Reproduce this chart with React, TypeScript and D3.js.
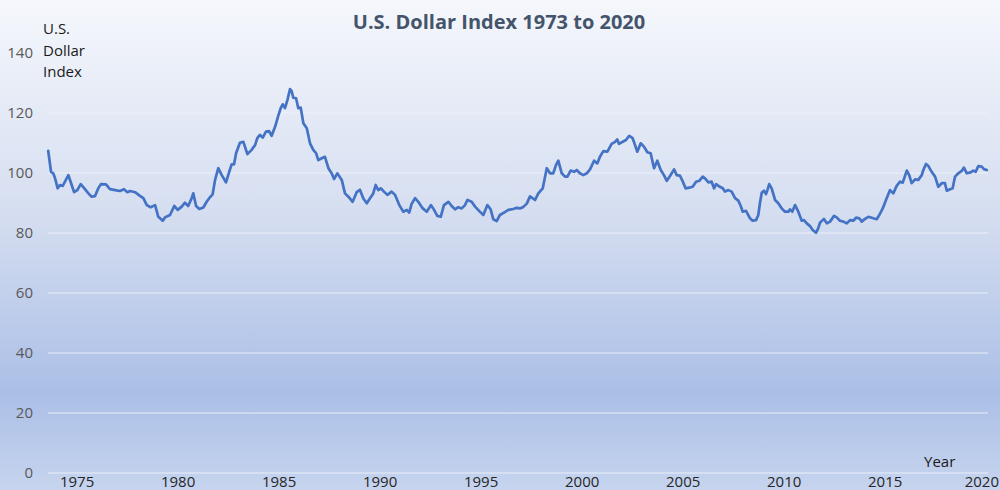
import React from "react";
import * as d3 from "d3";

const years: number[] = [
  1973.57, 1973.71, 1973.82, 1973.91, 1974.04, 1974.15, 1974.29, 1974.40, 1974.57, 1974.68, 1974.85,
  1975.01, 1975.18, 1975.39, 1975.56, 1975.72, 1975.89, 1976.05, 1976.18, 1976.43, 1976.63, 1976.88,
  1977.12, 1977.32, 1977.49, 1977.62, 1977.87, 1978.11, 1978.28, 1978.45, 1978.64, 1978.86, 1979.02,
  1979.24, 1979.35, 1979.60, 1979.81, 1979.98, 1980.18, 1980.34, 1980.50, 1980.67, 1980.75, 1980.89,
  1981.05, 1981.25, 1981.42, 1981.54, 1981.71, 1981.83, 1981.99, 1982.16, 1982.37, 1982.53, 1982.65,
  1982.77, 1982.87, 1983.06, 1983.23, 1983.43, 1983.64, 1983.81, 1983.92, 1984.05, 1984.19, 1984.35,
  1984.50, 1984.63, 1984.80, 1984.96, 1985.08, 1985.18, 1985.29, 1985.41, 1985.54, 1985.62, 1985.70,
  1985.84, 1985.95, 1986.07, 1986.20, 1986.37, 1986.53, 1986.69, 1986.83, 1986.94, 1987.11, 1987.27,
  1987.44, 1987.60, 1987.72, 1987.88, 1988.10, 1988.26, 1988.43, 1988.64, 1988.84, 1989.00, 1989.17,
  1989.34, 1989.50, 1989.66, 1989.78, 1989.91, 1990.03, 1990.19, 1990.36, 1990.57, 1990.74, 1990.95,
  1991.15, 1991.32, 1991.44, 1991.56, 1991.73, 1991.89, 1992.11, 1992.31, 1992.52, 1992.67, 1992.83,
  1993.00, 1993.16, 1993.38, 1993.54, 1993.71, 1993.87, 1994.04, 1994.20, 1994.32, 1994.53, 1994.70,
  1994.91, 1995.11, 1995.31, 1995.47, 1995.60, 1995.77, 1995.93, 1996.13, 1996.35, 1996.59, 1996.76,
  1996.92, 1997.09, 1997.26, 1997.42, 1997.67, 1997.83, 1998.05, 1998.25, 1998.41, 1998.57, 1998.71,
  1998.82, 1998.99, 1999.15, 1999.27, 1999.43, 1999.60, 1999.73, 1999.89, 2000.06, 2000.23, 2000.39,
  2000.59, 2000.75, 2000.88, 2001.05, 2001.25, 2001.46, 2001.63, 2001.74, 2001.82, 2002.01, 2002.17,
  2002.33, 2002.50, 2002.62, 2002.73, 2002.90, 2003.06, 2003.23, 2003.39, 2003.56, 2003.72, 2003.89,
  2004.05, 2004.19, 2004.35, 2004.55, 2004.68, 2004.84, 2004.98, 2005.12, 2005.30, 2005.47, 2005.64,
  2005.80, 2005.97, 2006.08, 2006.25, 2006.41, 2006.53, 2006.63, 2006.82, 2006.96, 2007.07, 2007.24,
  2007.40, 2007.57, 2007.73, 2007.85, 2007.95, 2008.11, 2008.31, 2008.44, 2008.61, 2008.72, 2008.80,
  2008.89, 2009.00, 2009.10, 2009.17, 2009.26, 2009.38, 2009.55, 2009.71, 2009.88, 2010.04, 2010.21,
  2010.29, 2010.40, 2010.54, 2010.70, 2010.87, 2010.98, 2011.12, 2011.28, 2011.41, 2011.58, 2011.69,
  2011.77, 2011.97, 2012.11, 2012.27, 2012.47, 2012.60, 2012.76, 2012.93, 2013.10, 2013.26, 2013.42,
  2013.56, 2013.72, 2013.84, 2014.00, 2014.17, 2014.41, 2014.58, 2014.71, 2014.88, 2015.04, 2015.24,
  2015.40, 2015.57, 2015.73, 2015.87, 2016.07, 2016.19, 2016.31, 2016.48, 2016.64, 2016.81, 2016.89,
  2017.02, 2017.14, 2017.30, 2017.47, 2017.63, 2017.80, 2017.96, 2018.05, 2018.21, 2018.34, 2018.46,
  2018.62, 2018.79, 2018.90, 2019.04, 2019.23, 2019.36, 2019.48, 2019.61, 2019.78, 2019.89, 2020.03,
];

const dollarIndex: number[] = [
  107.4, 100.4, 99.9, 98.2, 94.9, 96.0, 95.7, 97.1, 99.3, 97.1, 93.6,
  94.3, 96.3, 94.6, 93.2, 92.1, 92.3, 94.9, 96.3, 96.2, 94.6, 94.3,
  94.0, 94.6, 93.6, 94.0, 93.6, 92.4, 91.6, 89.3, 88.6, 89.3, 85.4,
  84.1, 85.2, 86.0, 89.0, 87.7, 88.8, 90.1, 89.0, 91.6, 93.2, 89.0,
  88.0, 88.5, 90.5, 91.6, 92.9, 97.7, 101.6, 99.3, 96.9, 100.4, 102.9,
  102.9, 106.6, 110.1, 110.4, 106.3, 107.7, 109.3, 111.6, 112.7, 111.8, 113.8,
  114.0, 112.4, 115.4, 119.1, 121.6, 122.9, 121.6, 124.3, 128.0, 127.3, 125.1,
  124.9, 121.6, 121.8, 116.6, 114.9, 109.9, 107.7, 106.6, 104.3, 104.9, 105.4,
  101.6, 99.9, 98.0, 99.9, 97.7, 93.2, 92.1, 90.4, 93.6, 94.4, 91.5,
  89.9, 91.6, 93.2, 96.0, 94.3, 94.9, 93.8, 92.7, 93.8, 92.7, 89.3,
  87.1, 87.7, 86.8, 89.7, 91.6, 90.4, 88.2, 87.1, 89.3, 87.7, 85.7,
  85.4, 89.3, 90.4, 89.0, 87.9, 88.6, 88.2, 89.3, 91.0, 90.4, 88.8,
  87.3, 86.0, 89.3, 87.9, 84.6, 84.0, 86.0, 86.8, 87.7, 88.0, 88.4,
  88.2, 88.7, 89.8, 92.2, 91.0, 93.2, 94.9, 101.6, 99.9, 99.9, 102.7,
  104.1, 99.9, 98.8, 98.8, 100.8, 100.4, 101.0, 99.9, 99.3, 99.9, 101.2,
  104.1, 103.2, 105.4, 107.3, 107.1, 109.7, 110.4, 111.2, 109.7, 110.4, 111.0,
  112.4, 111.6, 109.3, 107.1, 109.9, 108.8, 106.9, 106.6, 101.6, 104.1, 101.0,
  99.3, 97.4, 99.0, 101.2, 99.3, 99.1, 97.2, 94.9, 95.1, 95.4, 97.1,
  97.4, 98.8, 98.2, 96.9, 97.1, 94.9, 96.3, 95.4, 94.9, 93.8, 94.3,
  93.8, 91.6, 90.8, 89.0, 87.1, 87.4, 84.9, 84.1, 84.3, 86.0, 89.9,
  93.4, 94.1, 93.0, 94.3, 96.3, 94.9, 91.0, 89.9, 88.2, 87.1, 87.1,
  87.9, 87.1, 89.3, 87.1, 84.1, 84.3, 83.2, 82.3, 81.0, 80.1, 81.6,
  83.4, 84.7, 83.2, 83.8, 85.7, 85.2, 84.1, 83.8, 83.2, 84.3, 84.1,
  85.1, 84.9, 83.8, 84.7, 85.4, 84.9, 84.6, 86.0, 88.2, 91.0, 94.3,
  93.2, 95.7, 97.1, 96.8, 100.8, 99.3, 96.6, 97.9, 97.7, 99.3, 101.0,
  103.0, 102.3, 100.4, 98.8, 95.4, 96.6, 96.6, 94.1, 94.6, 94.9, 98.8,
  99.9, 100.7, 101.8, 99.9, 100.2, 100.8, 100.4, 102.3, 102.1, 101.3, 101.0,
];

const yTicks: number[] = [0, 20, 40, 60, 80, 100, 120, 140];
const xTickYears: number[] = [1975, 1980, 1985, 1990, 1995, 2000, 2005, 2010, 2015, 2020];
const titleText = "U.S. Dollar Index 1973 to 2020";
const yAxisTitle: string[] = ["U.S.", "Dollar", "Index"];
const xAxisTitle = "Year";

export default function App() {
  const W = 1000;
  const H = 490;
  const x = d3.scaleLinear().domain([1973.56, 2020.09]).range([48, 988]);
  const y = d3.scaleLinear().domain([0, 140]).range([473, 53]);
  const pts: [number, number][] = years.map((t, i) => [t, dollarIndex[i]]);
  const line = d3
    .line<[number, number]>()
    .x((d) => x(d[0]))
    .y((d) => y(d[1]));
  const font = "'Open Sans', 'Noto Sans', sans-serif";
  const tickFs = 15;

  return (
    <svg
      width={W}
      height={H}
      style={{ position: "absolute", left: 0, top: 0, display: "block" }}
      fontFamily={font}
    >
      <defs>
        <linearGradient id="bg" x1="0" y1="0" x2="0" y2="1">
          <stop offset="0%" stopColor="#F5F7FC" />
          <stop offset="45%" stopColor="#D4DDF0" />
          <stop offset="80%" stopColor="#ABBFE6" />
          <stop offset="100%" stopColor="#C6D4EE" />
        </linearGradient>
      </defs>
      <rect x={0} y={0} width={W} height={H} fill="url(#bg)" />

      {yTicks.map((v) => (
        <g key={v}>
          <line
            x1={48}
            x2={988}
            y1={y(v)}
            y2={y(v)}
            stroke="#EEF2FA"
            strokeOpacity={0.9}
            strokeWidth={1}
          />
          <text
            x={33}
            y={y(v) + 5}
            textAnchor="end"
            fontSize={tickFs}
            fill="#595959"
          >
            {v}
          </text>
        </g>
      ))}

      {xTickYears.map((yr) => {
        const px = x(yr);
        const nearEdge = px + 18 > W;
        return (
          <text
            key={yr}
            x={nearEdge ? W - 1 : px}
            y={487}
            textAnchor={nearEdge ? "end" : "middle"}
            fontSize={tickFs}
            fill="#262626"
          >
            {yr}
          </text>
        );
      })}

      <path
        d={line(pts) || ""}
        fill="none"
        stroke="#4472C4"
        strokeWidth={2.7}
        strokeLinejoin="round"
        strokeLinecap="round"
      />

      <text
        x={499}
        y={29}
        textAnchor="middle"
        fontSize={20}
        fontWeight="bold"
        fill="#44546A"
      >
        {titleText}
      </text>

      {yAxisTitle.map((s, i) => (
        <text key={s} x={43} y={34 + i * 21.5} fontSize={tickFs} fill="#1a1a1a">
          {s}
        </text>
      ))}

      <text x={924} y={467} fontSize={tickFs} fill="#1a1a1a">
        {xAxisTitle}
      </text>
    </svg>
  );
}
